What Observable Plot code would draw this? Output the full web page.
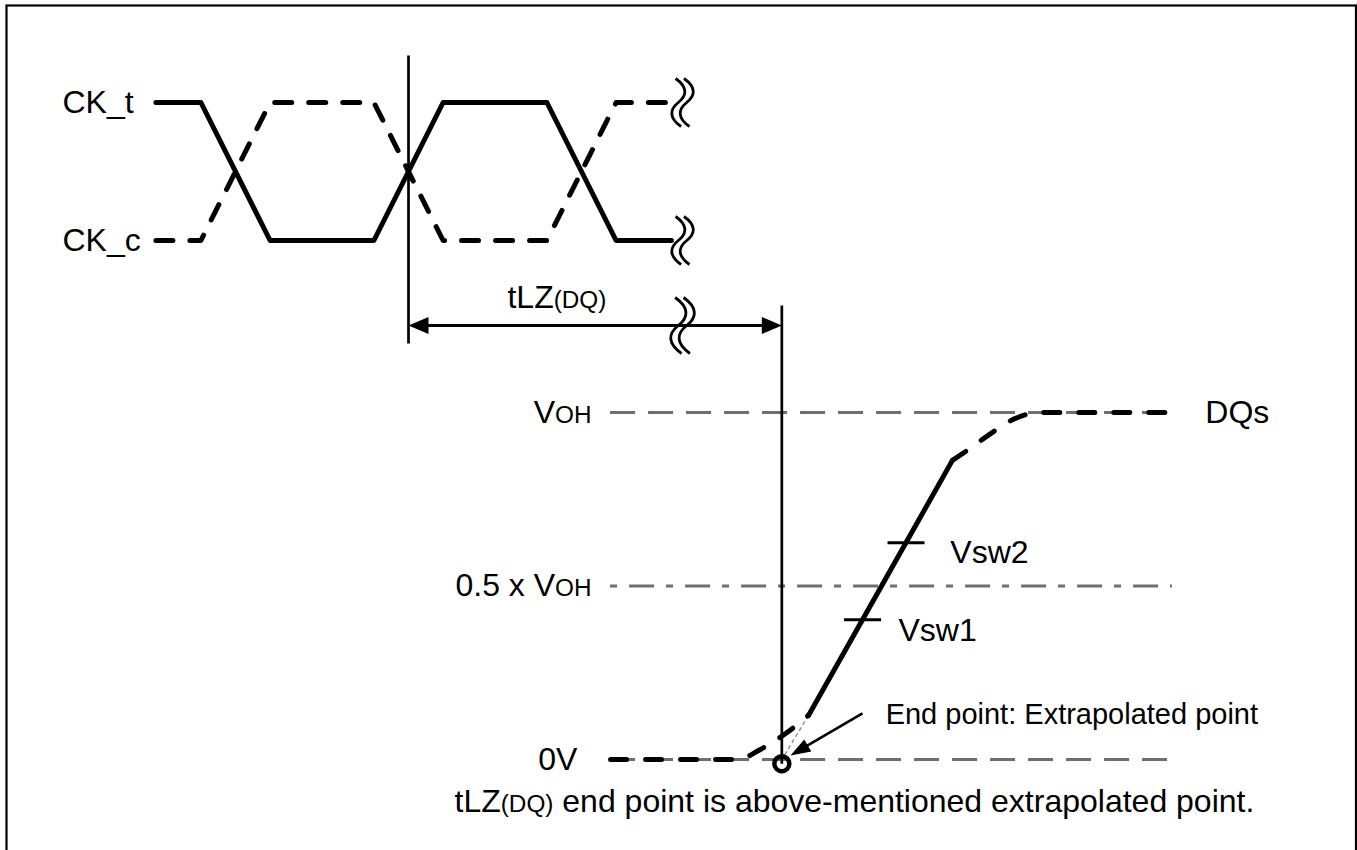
<!DOCTYPE html>
<html><head><meta charset="utf-8">
<script src="https://cdn.jsdelivr.net/npm/d3@7"></script>
<script src="https://cdn.jsdelivr.net/npm/@observablehq/plot@0.6"></script>
<style>
html,body{margin:0;padding:0;background:#fff;overflow:hidden;}
#chart svg{display:block;}
</style></head><body><div id="chart"></div>
<script>
// ---------- data (time in tCK, voltage as fraction of VOH) ----------
const ckTime    = [-0.73, -0.6, -0.4, -0.1, 0.1, 0.4, 0.6, 0.76];
const ckTLevel  = [1, 1, 0, 0, 1, 1, 0, 0];
const ckCLevel  = [0, 0, 1, 1, 0, 0, 1, 1];
const breakTime = 0.792;
const tLZEnd    = 1.079;

const dqLowTime   = [0.584, 0.951, 1.017, 1.090, 1.156];
const dqLowLevel  = [0, 0, 0.029, 0.075, 0.127];
const dqRiseTime  = [1.156, 1.572];
const dqRiseLevel = [0.127, 0.862];
const dqHighTime  = [1.572, 1.618, 1.691, 1.754, 1.827, 2.208];
const dqHighLevel = [0.862, 0.893, 0.945, 0.983, 1.0, 1.0];

const refLevels = [1, 0.5, 0];
const refLabels = ["V{OH}", "0.5 x V{OH}", "0V"];
const refStart = 0.584, refEnd = 2.208;

const vswLevels = [0.403, 0.625];
const vswLabels = ["Vsw1", "Vsw2"];

const endArrowTail = {t: 1.312, v: 0.1326};
const endArrowTip  = {t: 1.104, v: 0.0115};

// ---------- layout ----------
const W = 1357, H = 850;
const X0 = 408, PX_T = 346;   // pixel of t=0, pixels per tCK
const Y0 = 759, PX_V = 347;   // pixel of 0V, pixels per VOH
const CK_LOW = (Y0 - 240) / PX_V, CK_HIGH = (Y0 - 102) / PX_V;
const ARROW_V = (Y0 - 325) / PX_V;
const GRAY = "#6e6e6e";
const FONT = "'Liberation Sans', Arial, Helvetica, sans-serif";
const ckLevelToV = l => CK_LOW + l * (CK_HIGH - CK_LOW);

const zip = (ts, vs) => ts.map((t, i) => ({t, v: vs[i]}));
const ckT = ckTime.map((t, i) => ({t, v: ckLevelToV(ckTLevel[i])}));
const ckC = ckTime.map((t, i) => ({t, v: ckLevelToV(ckCLevel[i])}));
const dqLow = zip(dqLowTime, dqLowLevel);
const dqRise = zip(dqRiseTime, dqRiseLevel);
const dqHigh = zip(dqHighTime, dqHighLevel);
const refs = refLevels.map((v, i) => ({v, label: refLabels[i]}));

const riseAt = v => dqRiseTime[0] + (v - dqRiseLevel[0]) * (dqRiseTime[1] - dqRiseTime[0]) / (dqRiseLevel[1] - dqRiseLevel[0]);
const TICK_HALF = 18.5 / PX_T;
const vsw = vswLevels.map((v, i) => ({v, c: riseAt(v), label: vswLabels[i]}));

// ---------- custom symbols ----------
function headSymbol(angleDeg, L, w) {
  const a = angleDeg * Math.PI / 180, c = Math.cos(a), s = Math.sin(a);
  const P = (x, y) => [x * c - y * s, x * s + y * c];
  return {draw(ctx) {
    const p0 = P(0, 0), p1 = P(-L, -w), p2 = P(-L, w);
    ctx.moveTo(p0[0], p0[1]); ctx.lineTo(p1[0], p1[1]); ctx.lineTo(p2[0], p2[1]); ctx.closePath();
  }};
}
function breakSymbol(h) {
  const w = h * 0.38, sep = 4.2;
  return {draw(ctx) {
    for (const o of [-sep, sep]) {
      ctx.moveTo(o - w * 0.3, -h);
      ctx.bezierCurveTo(o + w, -h * 0.65, o + w, -h * 0.3, o, 0);
      ctx.bezierCurveTo(o - w, h * 0.3, o - w, h * 0.65, o + w * 0.3, h);
    }
  }};
}

// end-point arrow geometry (screen direction)
const eDx = (endArrowTip.t - endArrowTail.t) * PX_T, eDy = -(endArrowTip.v - endArrowTail.v) * PX_V;
const eAng = Math.atan2(eDy, eDx) * 180 / Math.PI;
const eLen = Math.hypot(eDx, eDy), eCut = 12 / eLen;
const endLine = [{t1: endArrowTail.t, v1: endArrowTail.v,
  t2: endArrowTip.t - (endArrowTip.t - endArrowTail.t) * eCut,
  v2: endArrowTip.v - (endArrowTip.v - endArrowTail.v) * eCut}];

const vlines = [
  {t: 0, top: (Y0 - 55) / PX_V, bottom: (Y0 - 343) / PX_V},
  {t: tLZEnd, top: (Y0 - 305) / PX_V, bottom: -0.012}
];

const texts32 = [
  {t: -1.0, v: CK_HIGH, text: "CK_t", anchor: "start", line: "middle"},
  {t: -1.0, v: CK_LOW, text: "CK_c", anchor: "start", line: "middle"},
  {t: 0.286, v: (Y0 - 307) / PX_V, text: "tLZ{(DQ)}", anchor: "start", line: "bottom"},
  {t: 0.529, v: 1, text: refLabels[0], anchor: "end", line: "middle"},
  {t: 0.529, v: 0.5, text: refLabels[1], anchor: "end", line: "middle"},
  {t: 0.488, v: 0, text: refLabels[2], anchor: "end", line: "middle"},
  {t: 2.303, v: 1, text: "DQs", anchor: "start", line: "middle"},
  {t: 1.566, v: (Y0 - 562) / PX_V, text: vswLabels[1], anchor: "start", line: "bottom"},
  {t: 1.416, v: (Y0 - 640) / PX_V, text: vswLabels[0], anchor: "start", line: "bottom"},
  {t: 0.133, v: (Y0 - 811) / PX_V, text: "tLZ{(DQ)} end point is above-mentioned extrapolated point.", anchor: "start", line: "bottom"}
];
const texts29 = [
  {t: 1.379, v: (Y0 - 723) / PX_V, text: "End point: Extrapolated point", anchor: "start", line: "bottom"}
];

const textMark = (rows, size) => [
  ...["middle", "bottom"].flatMap(la => ["start", "end"].map(ta => {
    const sub = rows.filter(r => r.line === la && r.anchor === ta);
    return Plot.text(sub, {x: "t", y: "v", text: "text", textAnchor: ta, lineAnchor: la,
      fontSize: size, fontFamily: FONT, fill: "black"});
  }))
];

const plot = Plot.plot({
  width: W, height: H, margin: 0,
  style: {background: "white", fontFamily: FONT, overflow: "visible"},
  x: {domain: [-X0 / PX_T, (W - X0) / PX_T], range: [0, W], axis: null},
  y: {domain: [(Y0 - H) / PX_V, Y0 / PX_V], range: [H, 0], axis: null},
  marks: [
    Plot.frame({insetLeft: 6, insetTop: 5, insetRight: 1.5, insetBottom: -40, stroke: "black", strokeWidth: 2.2}),
    // reference levels
    Plot.ruleY(refs.filter(r => r.v !== 0.5), {y: "v", x1: () => refStart, x2: () => refEnd,
      stroke: GRAY, strokeWidth: 3, strokeDasharray: "25,13"}),
    Plot.ruleY(refs.filter(r => r.v === 0.5), {y: "v", x1: () => refStart, x2: () => refEnd,
      stroke: GRAY, strokeWidth: 3, strokeDasharray: "7,12,25,12"}),
    // extrapolation
    Plot.link([{t1: dqRiseTime[0], v1: dqRiseLevel[0], t2: tLZEnd, v2: 0}], {x1: "t1", y1: "v1", x2: "t2", y2: "v2",
      stroke: "#888", strokeWidth: 1.3, strokeDasharray: "4,3"}),
    // DQ
    Plot.line(dqLow, {x: "t", y: "v", curve: "monotone-x", stroke: "black", strokeWidth: 5,
      strokeDasharray: "16,19", strokeLinecap: "round"}),
    Plot.line(dqRise, {x: "t", y: "v", stroke: "black", strokeWidth: 5}),
    Plot.line(dqHigh, {x: "t", y: "v", curve: "monotone-x", stroke: "black", strokeWidth: 5,
      strokeDasharray: "16,19", strokeLinecap: "round"}),
    // clocks
    Plot.line(ckT, {x: "t", y: "v", stroke: "black", strokeWidth: 5}),
    Plot.line(ckC, {x: "t", y: "v", stroke: "black", strokeWidth: 5, strokeDasharray: "17,17", strokeLinecap: "round"}),
    // break marks
    Plot.dot([{t: breakTime, v: CK_HIGH}, {t: breakTime, v: CK_LOW}], {x: "t", y: "v", r: 1,
      symbol: breakSymbol(24), fill: "none", stroke: "black", strokeWidth: 2.8}),
    // vertical reference lines
    Plot.link(vlines, {x1: "t", x2: "t", y1: "top", y2: "bottom", stroke: "black", strokeWidth: 2.7}),
    // tLZ arrow
    Plot.link([{t1: 0 + 12 / PX_T, t2: tLZEnd - 12 / PX_T, v: ARROW_V}], {x1: "t1", x2: "t2", y1: "v", y2: "v",
      stroke: "black", strokeWidth: 3}),
    Plot.dot([{t: 0, v: ARROW_V}], {x: "t", y: "v", r: 1, symbol: headSymbol(180, 20, 8.5), fill: "black", stroke: "none"}),
    Plot.dot([{t: tLZEnd, v: ARROW_V}], {x: "t", y: "v", r: 1, symbol: headSymbol(0, 20, 8.5), fill: "black", stroke: "none"}),
    Plot.dot([{t: breakTime, v: ARROW_V}], {x: "t", y: "v", r: 1,
      symbol: breakSymbol(28), fill: "none", stroke: "black", strokeWidth: 2.8}),
    // Vsw ticks
    Plot.link(vsw, {x1: d => d.c - TICK_HALF, x2: d => d.c + TICK_HALF, y1: "v", y2: "v", stroke: "black", strokeWidth: 3}),
    // end point circle
    Plot.dot([{t: tLZEnd, v: -0.012}], {x: "t", y: "v", r: 7.5, fill: "none", stroke: "black", strokeWidth: 4.5}),
    // end point arrow
    Plot.link(endLine, {x1: "t1", y1: "v1", x2: "t2", y2: "v2", stroke: "black", strokeWidth: 2.6}),
    Plot.dot([endArrowTip], {x: "t", y: "v", r: 1, symbol: headSymbol(eAng, 20, 7), fill: "black", stroke: "none"}),
    // texts
    ...textMark(texts32, 32),
    ...textMark(texts29, 29)
  ]
});

// rich text: {…} parts in smaller size
d3.select(plot).selectAll("text").each(function() {
  const s = this.textContent;
  if (!s.includes("{")) return;
  const parts = s.split(/[{}]/);
  this.textContent = "";
  parts.forEach((p, i) => {
    if (!p) return;
    const ts = document.createElementNS("http://www.w3.org/2000/svg", "tspan");
    ts.textContent = p;
    if (i % 2 === 1) ts.setAttribute("font-size", "0.76em");
    this.appendChild(ts);
  });
});

document.getElementById("chart").appendChild(plot);
</script>
</body></html>
